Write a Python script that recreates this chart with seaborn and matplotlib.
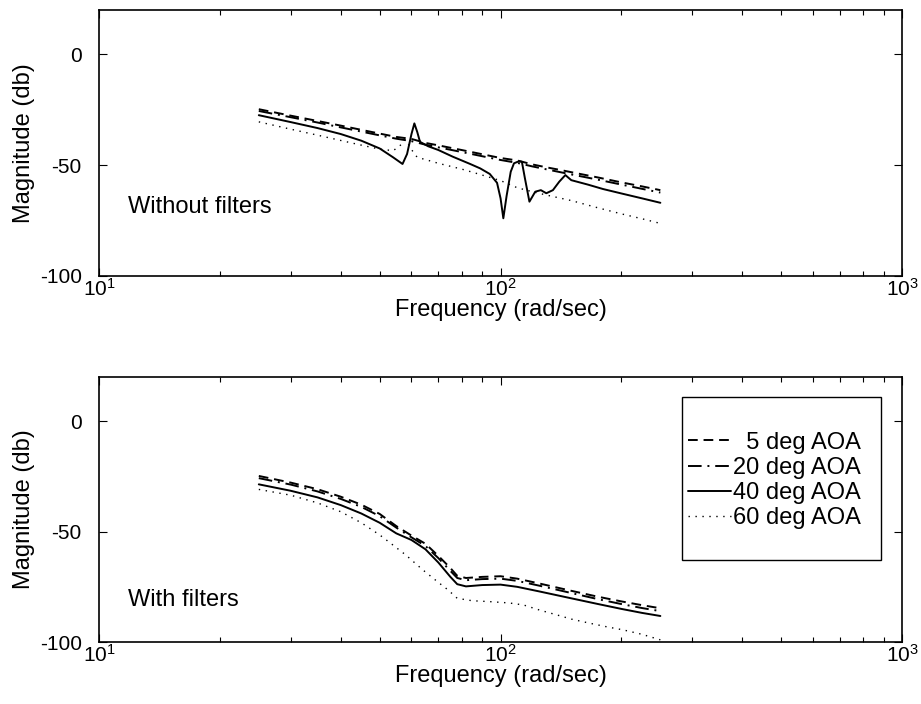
"""Bode magnitude of the pitch loop, with and without structural filters."""
import pandas as pd
import seaborn as sns

from matplotlib import pyplot as plt
from matplotlib.patches import Rectangle


LABELS = ["5 deg AOA", "20 deg AOA", "40 deg AOA", "60 deg AOA"]

# top panel: without filters
FREQ_TOP = [25, 30, 35, 40, 45, 50, 55, 60, 65, 70, 80, 90, 100, 110, 120,
            130, 140, 150, 175, 200, 225, 250]
TOP_5DEG = [-24.8, -27.7, -30.1, -32.2, -34.1, -35.8, -37.3, -38.2, -40.0,
            -41.1, -43.2, -45.1, -46.8, -47.9, -49.7, -51.0, -52.1, -53.2,
            -55.6, -57.8, -59.6, -61.3]
TOP_20DEG = [-25.6, -28.4, -30.8, -33.0, -34.9, -36.6, -38.1, -39.2, -40.8,
             -42.0, -44.1, -46.0, -47.7, -49.0, -50.6, -51.9, -53.1, -54.2,
             -56.6, -58.8, -60.7, -62.4]

FREQ_TOP_40 = [25, 30, 35, 40, 45, 50, 54, 57, 58.5, 60, 61, 62, 63, 66, 70,
               76, 84, 89, 94, 98, 100, 101.6, 103.5, 106, 108, 111, 113,
               115, 118, 122, 126, 130, 135, 140, 145, 150, 165, 180, 200,
               225, 250]
TOP_40DEG = [-27.5, -30.6, -33.3, -36.0, -39.0, -42.5, -46.5, -49.5, -45.0,
             -36.0, -31.2, -35.0, -39.5, -41.5, -43.2, -46.2, -49.5, -51.5,
             -54.0, -58.0, -65.0, -74.0, -64.0, -53.0, -49.2, -48.3, -48.5,
             -56.0, -66.5, -62.0, -61.3, -62.7, -61.3, -57.5, -54.5, -56.8,
             -58.8, -60.8, -62.8, -65.0, -67.0]

FREQ_TOP_60 = [25, 30, 35, 40, 45, 50, 54, 56, 58, 60, 62, 65, 70, 80, 90,
               100, 110, 120, 130, 140, 150, 175, 200, 225, 250]
TOP_60DEG = [-30.5, -33.8, -36.5, -38.9, -41.0, -42.8, -43.5, -41.5, -38.5,
             -43.0, -46.5, -47.5, -49.2, -51.8, -54.5, -57.0, -60.2, -62.0,
             -63.5, -64.8, -66.0, -69.3, -72.0, -74.2, -76.3]

# bottom panel: with filters
FREQ_BOT = [25, 30, 35, 40, 45, 50, 55, 60, 65, 70, 75, 78, 82, 90, 100, 110,
            125, 150, 175, 200, 225, 250]
BOT_5DEG = [-24.8, -27.8, -30.8, -34.2, -37.8, -42.0, -47.5, -51.8, -55.5,
            -61.0, -66.5, -70.0, -71.0, -70.5, -70.2, -71.3, -73.5, -76.8,
            -79.5, -81.6, -83.3, -84.7]
BOT_20DEG = [-25.8, -28.7, -31.8, -35.2, -38.8, -43.0, -48.2, -52.6, -56.5,
             -62.0, -67.8, -71.0, -72.0, -71.5, -71.3, -72.3, -74.5, -77.8,
             -80.6, -82.8, -84.6, -86.0]
BOT_40DEG = [-28.6, -31.5, -34.5, -38.0, -41.8, -46.0, -50.8, -53.8, -58.0,
             -64.0, -70.5, -73.8, -74.8, -74.2, -74.0, -75.0, -77.1, -80.2,
             -82.8, -85.0, -86.8, -88.2]

FREQ_BOT_60 = [25, 30, 35, 40, 45, 50, 53, 58, 64, 70, 74, 78, 85, 94, 105,
               114, 125, 138, 150, 167, 185, 202, 225, 250]
BOT_60DEG = [-30.9, -33.5, -37.0, -41.0, -46.0, -51.5, -55.0, -60.5, -67.3,
             -73.0, -76.4, -80.2, -81.3, -81.7, -82.3, -83.2, -85.5, -87.7,
             -89.6, -91.5, -93.2, -94.5, -96.5, -99.0]

LINESTYLES = {
    "5 deg AOA": (0, (5, 3)),
    "20 deg AOA": (0, (7, 3, 1, 3)),
    "40 deg AOA": "-",
    "60 deg AOA": (0, (1, 4)),
}
FONTSIZE = 17
TICKSIZE = 15


def make_frame(pairs):
    """Stack (freq, mag) pairs into one long table."""
    frames = []
    for label, (freq, mag) in zip(LABELS, pairs):
        frames.append(pd.DataFrame({"freq": freq, "mag": mag, "aoa": label}))
    return pd.concat(frames, ignore_index=True)


def draw_panel(ax, df, note, note_y):
    """Draw one Bode magnitude panel."""
    for label in LABELS:
        sub = df.loc[df["aoa"] == label]
        sns.lineplot(
            data=sub, x="freq", y="mag", ax=ax, color="k",
            linestyle=LINESTYLES[label],
            lw=1.0 if label == "60 deg AOA" else 1.4,
            label=label,
        )
    if ax.get_legend() is not None:
        ax.get_legend().remove()

    ax.set_xscale("log")
    ax.set_xlim(10, 1000)
    ax.set_ylim(-100, 20)
    ax.set_yticks([-100, -50, 0])
    ax.tick_params(which="both", direction="in", top=True, right=True,
                   labelsize=TICKSIZE, width=0.8, colors="k")
    ax.tick_params(axis="x", which="major", pad=1.5)
    ax.tick_params(axis="y", which="major", pad=12.5)
    ax.tick_params(which="major", length=6)
    ax.tick_params(which="minor", length=3.5)
    for spine in ax.spines.values():
        spine.set_color("k")
        spine.set_linewidth(1.2)

    ax.set_xlabel("Frequency (rad/sec)", fontsize=FONTSIZE, color="k")
    ax.xaxis.set_label_coords(0.5, -0.088)
    ax.set_ylabel("Magnitude (db)", fontsize=FONTSIZE, color="k")
    ax.yaxis.set_label_coords(-0.08, 0.5)
    ax.text(11.8, note_y, note, fontsize=FONTSIZE, va="center", color="k")


sns.set_style("ticks")
plt.rcParams["font.family"] = ["Liberation Sans", "DejaVu Sans"]
plt.rcParams["axes.unicode_minus"] = False
plt.rcParams["text.color"] = "k"

fig = plt.figure(figsize=(9.21, 7.04), dpi=100)
ax_top = fig.add_axes([0.1075, 0.608, 0.872, 0.378])
ax_bot = fig.add_axes([0.1075, 0.088, 0.872, 0.3765])

df_top = make_frame([(FREQ_TOP, TOP_5DEG), (FREQ_TOP, TOP_20DEG),
                     (FREQ_TOP_40, TOP_40DEG), (FREQ_TOP_60, TOP_60DEG)])
df_bot = make_frame([(FREQ_BOT, BOT_5DEG), (FREQ_BOT, BOT_20DEG),
                     (FREQ_BOT, BOT_40DEG), (FREQ_BOT_60, BOT_60DEG)])

draw_panel(ax_top, df_top, "Without filters", -69)
draw_panel(ax_bot, df_bot, "With filters", -81)

# legend: labels padded so the text lines up on the right, boxed separately
handles, labels = ax_bot.get_legend_handles_labels()
labels = [("  " + lab) if lab.startswith("5 ") else lab for lab in labels]
ax_bot.legend(
    handles, labels, loc="center left", bbox_to_anchor=(0.7335, 0.61),
    borderaxespad=0, borderpad=0, frameon=False, fontsize=FONTSIZE,
    handlelength=1.8, handletextpad=0.1, labelspacing=0.13,
)
ax_bot.add_patch(Rectangle((0.726, 0.309), 0.248, 0.6155,
                           transform=ax_bot.transAxes, fill=False,
                           edgecolor="k", lw=1.0, zorder=5))

fig.savefig("out.png", dpi=100, facecolor="w")
